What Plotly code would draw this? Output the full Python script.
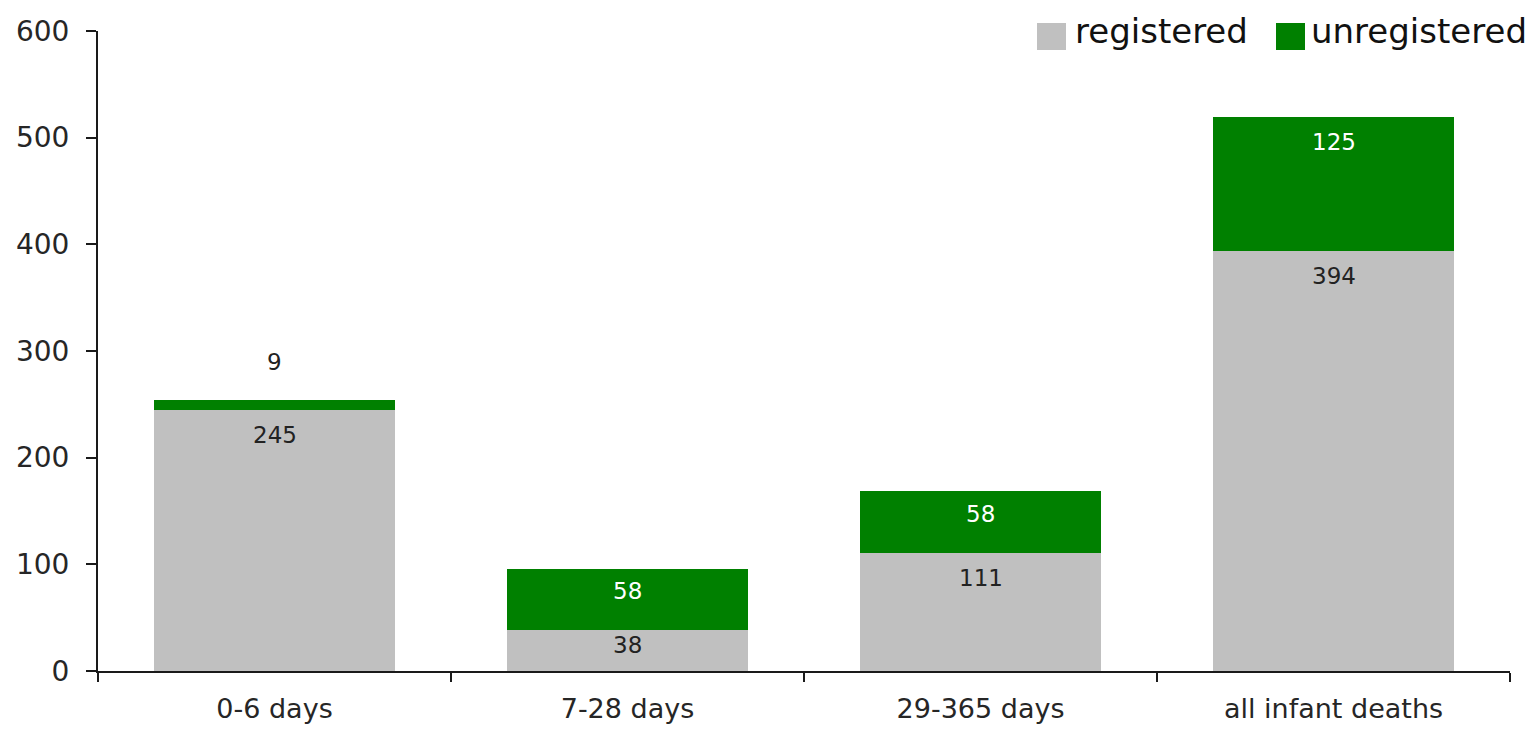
import plotly.graph_objects as go

# Infant deaths by age at death, split by registration status
categories = ["0-6 days", "7-28 days", "29-365 days", "all infant deaths"]
registered = [245, 38, 111, 394]
unregistered = [9, 58, 58, 125]
y_ticks = [0, 100, 200, 300, 400, 500, 600]

GREY = "#C0C0C0"
GREEN = "#008000"
FONT = "DejaVu Sans"

W, H = 1537, 730
M_L, M_R, M_T, M_B = 98, 27, 31, 59
PLOT_W = W - M_L - M_R
PLOT_H = H - M_T - M_B
Y_MAX = 600


def px_x(px):
    return (px - M_L) / PLOT_W


def px_y(py):
    return (H - M_B - py) / PLOT_H


fig = go.Figure()
fig.add_trace(go.Bar(x=categories, y=registered, name="registered",
                     marker=dict(color=GREY, line=dict(width=0))))
fig.add_trace(go.Bar(x=categories, y=unregistered, name="unregistered",
                     marker=dict(color=GREEN, line=dict(width=0))))

# Value labels: placed just below the top of each segment; tiny segments get
# their label above the stack instead.
unit_px = PLOT_H / Y_MAX
annotations = []
for cat, reg, unreg in zip(categories, registered, unregistered):
    for base, val, col in ((0, reg, "#222222"), (reg, unreg, "#FFFFFF")):
        top = base + val
        seg_px = val * unit_px
        if seg_px < 30:
            annotations.append(dict(x=cat, y=top, text=str(val), showarrow=False,
                                    yanchor="middle", yshift=38,
                                    font=dict(family=FONT, size=23, color="#222222")))
        else:
            annotations.append(dict(x=cat, y=top, text=str(val), showarrow=False,
                                    yanchor="middle", yshift=-min(25, seg_px * 0.37),
                                    font=dict(family=FONT, size=23, color=col)))

# Legend drawn at the top right with large swatches
shapes = []
legend_items = [("registered", GREY, 1037, 1073), ("unregistered", GREEN, 1276, 1309)]
for label, color, sx, tx in legend_items:
    shapes.append(dict(type="rect", xref="paper", yref="paper",
                       x0=px_x(sx), x1=px_x(sx + 29), y0=px_y(50), y1=px_y(23),
                       fillcolor=color, line=dict(width=0)))
    annotations.append(dict(xref="paper", yref="paper", x=px_x(tx), y=px_y(31),
                            xanchor="left", yanchor="middle", text=label,
                            showarrow=False,
                            font=dict(family=FONT, size=34, color="#111111")))

fig.update_layout(
    barmode="stack",
    bargap=0.317,
    width=W, height=H,
    margin=dict(l=M_L, r=M_R, t=M_T, b=M_B, pad=0),
    paper_bgcolor="white",
    plot_bgcolor="white",
    showlegend=False,
    annotations=annotations,
    shapes=shapes,
    font=dict(family=FONT, size=28, color="#222222"),
)
fig.update_xaxes(
    type="category",
    range=[-0.5, 3.5],
    automargin=False,
    showline=True, linecolor="#1a1a1a", linewidth=2,
    ticks="outside", tickson="boundaries", ticklen=9, tickwidth=2, tickcolor="#1a1a1a",
    showgrid=False, zeroline=False,
    tickfont=dict(family=FONT, size=27, color="#262626"),
    ticklabelstandoff=13,
)
fig.update_yaxes(
    range=[0, Y_MAX],
    tickvals=y_ticks,
    automargin=False,
    showline=True, linecolor="#1a1a1a", linewidth=2,
    ticks="outside", ticklen=10, tickwidth=2, tickcolor="#1a1a1a",
    showgrid=False, zeroline=False,
    tickfont=dict(family=FONT, size=28, color="#262626"),
    ticklabelstandoff=11,
)

fig.write_html("out.html")
